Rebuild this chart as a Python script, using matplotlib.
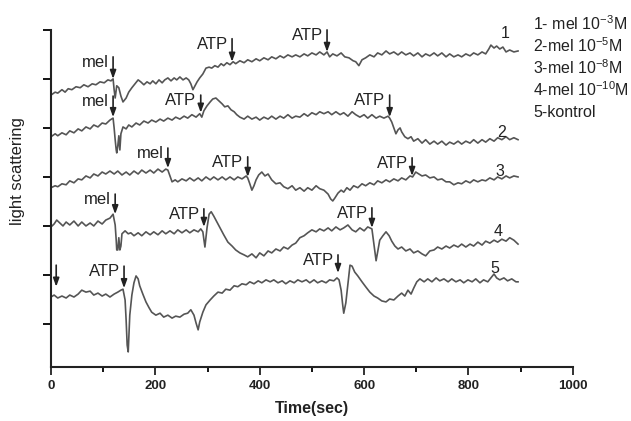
import matplotlib.pyplot as plt
import numpy as np

plt.rcParams['font.family'] = ['Liberation Sans', 'DejaVu Sans']

# traces: time (s) and light scattering (a.u.)
t1 = [0, 8, 13, 21, 27, 33, 40, 48, 56, 63, 71, 79, 86, 94, 102, 109, 115, 119, 121, 123, 125, 126, 130, 134,
      138, 144, 149, 155, 161, 167, 172, 178, 184, 190, 195, 201, 207, 213, 218, 224, 230, 236, 241, 247, 253,
      259, 264, 268, 272, 276, 280, 285, 291, 297, 303, 308, 314, 320, 326, 331, 337, 343, 349, 354, 362, 370,
      377, 385, 393, 400, 408, 416, 423, 431, 439, 446, 454, 462, 469, 477, 485, 492, 500, 508, 515, 523, 529,
      534, 540, 548, 556, 563, 571, 579, 584, 590, 596, 603, 611, 619, 626, 634, 642, 649, 657, 665, 672, 680,
      688, 695, 703, 711, 718, 726, 734, 741, 749, 757, 764, 772, 780, 787, 795, 803, 810, 818, 826, 833, 839,
      843, 849, 854, 860, 866, 872, 879, 887, 895]
y1 = [4.67, 4.73, 4.71, 4.78, 4.73, 4.80, 4.78, 4.84, 4.82, 4.88, 4.84, 4.90, 4.88, 4.94, 4.92, 4.98, 4.96, 5.00,
      4.78, 4.61, 4.78, 4.86, 4.82, 4.65, 4.53, 4.61, 4.73, 4.82, 4.90, 4.98, 4.94, 4.88, 4.94, 4.90, 4.96, 4.90,
      4.98, 4.92, 4.98, 5.02, 4.96, 5.02, 4.98, 5.04, 4.98, 5.02, 4.98, 4.90, 4.78, 4.86, 4.94, 5.02, 5.10, 5.22,
      5.24, 5.22, 5.27, 5.24, 5.31, 5.27, 5.33, 5.29, 5.35, 5.31, 5.37, 5.33, 5.39, 5.35, 5.41, 5.37, 5.43, 5.39,
      5.45, 5.41, 5.47, 5.43, 5.49, 5.45, 5.49, 5.45, 5.51, 5.47, 5.53, 5.49, 5.55, 5.49, 5.55, 5.45, 5.51, 5.47,
      5.53, 5.45, 5.43, 5.37, 5.35, 5.27, 5.39, 5.43, 5.49, 5.45, 5.53, 5.49, 5.57, 5.51, 5.55, 5.49, 5.55, 5.49,
      5.53, 5.47, 5.53, 5.45, 5.51, 5.47, 5.53, 5.47, 5.53, 5.45, 5.51, 5.45, 5.49, 5.45, 5.51, 5.47, 5.53, 5.49,
      5.55, 5.51, 5.61, 5.69, 5.63, 5.67, 5.61, 5.65, 5.55, 5.59, 5.55, 5.57]

t2 = [0, 8, 13, 21, 29, 36, 44, 52, 59, 67, 75, 82, 90, 98, 105, 113, 119, 121, 123, 125, 126, 128, 130, 132,
      134, 138, 144, 149, 155, 163, 170, 178, 186, 193, 201, 209, 216, 224, 232, 239, 247, 255, 262, 270, 278,
      285, 289, 293, 299, 305, 310, 316, 322, 328, 333, 339, 345, 351, 356, 362, 370, 377, 385, 393, 400, 408,
      416, 423, 431, 439, 446, 454, 462, 469, 477, 485, 492, 500, 508, 515, 523, 531, 538, 546, 554, 561, 569,
      577, 584, 592, 600, 607, 615, 623, 630, 638, 646, 649, 653, 657, 661, 665, 669, 672, 678, 684, 690, 695,
      703, 711, 718, 726, 734, 741, 749, 757, 764, 772, 780, 787, 795, 803, 810, 818, 826, 833, 841, 849, 856,
      864, 872, 879, 887, 895]
y2 = [3.82, 3.88, 3.84, 3.90, 3.86, 3.94, 3.90, 3.98, 3.94, 4.02, 3.98, 4.06, 4.02, 4.10, 4.08, 4.16, 4.20, 4.00,
      3.76, 3.55, 3.49, 3.63, 3.84, 3.55, 3.88, 4.02, 3.98, 4.06, 4.02, 4.10, 4.06, 4.14, 4.10, 4.16, 4.12, 4.18,
      4.14, 4.20, 4.16, 4.22, 4.18, 4.24, 4.20, 4.27, 4.22, 4.29, 4.22, 4.35, 4.45, 4.53, 4.59, 4.61, 4.55, 4.49,
      4.43, 4.45, 4.37, 4.33, 4.27, 4.22, 4.18, 4.24, 4.18, 4.22, 4.16, 4.22, 4.18, 4.24, 4.18, 4.24, 4.20, 4.27,
      4.20, 4.24, 4.22, 4.29, 4.24, 4.31, 4.27, 4.33, 4.29, 4.33, 4.27, 4.33, 4.27, 4.31, 4.24, 4.33, 4.27, 4.22,
      4.27, 4.20, 4.27, 4.20, 4.24, 4.20, 4.24, 4.20, 4.12, 4.00, 3.88, 3.96, 4.00, 3.92, 3.82, 3.78, 3.82, 3.73,
      3.78, 3.69, 3.76, 3.67, 3.73, 3.67, 3.73, 3.65, 3.71, 3.67, 3.73, 3.67, 3.73, 3.69, 3.76, 3.69, 3.76, 3.71,
      3.78, 3.73, 3.80, 3.76, 3.82, 3.76, 3.80, 3.76]

t3 = [0, 8, 13, 21, 29, 36, 44, 52, 59, 67, 75, 82, 90, 98, 105, 113, 121, 128, 136, 144, 151, 159, 167, 174,
      182, 190, 197, 205, 213, 220, 224, 228, 232, 238, 243, 251, 259, 266, 274, 282, 289, 297, 305, 312, 320,
      328, 335, 343, 351, 358, 366, 374, 377, 381, 385, 389, 393, 398, 404, 410, 416, 423, 431, 439, 446, 454,
      462, 469, 477, 485, 492, 500, 508, 515, 523, 531, 536, 540, 544, 550, 556, 561, 567, 573, 580, 588, 596,
      603, 611, 619, 626, 634, 642, 649, 657, 665, 672, 680, 688, 693, 699, 705, 711, 718, 726, 734, 741, 749,
      757, 764, 772, 780, 787, 795, 803, 810, 818, 826, 833, 841, 849, 856, 864, 872, 879, 887, 895]
y3 = [2.78, 2.82, 2.80, 2.86, 2.84, 2.92, 2.88, 2.96, 2.94, 3.02, 2.98, 3.06, 3.02, 3.10, 3.06, 3.12, 3.06, 3.12,
      3.04, 3.10, 3.04, 3.12, 3.06, 3.14, 3.08, 3.14, 3.08, 3.16, 3.10, 3.16, 3.14, 3.02, 2.90, 2.94, 2.90, 2.96,
      2.92, 2.98, 2.92, 2.98, 2.92, 3.00, 2.94, 3.00, 2.94, 3.00, 2.94, 3.00, 2.94, 3.00, 2.96, 3.02, 2.98, 2.86,
      2.73, 2.82, 2.94, 3.04, 3.10, 3.02, 3.06, 2.94, 2.86, 2.88, 2.80, 2.76, 2.82, 2.73, 2.78, 2.71, 2.78, 2.73,
      2.82, 2.76, 2.73, 2.65, 2.55, 2.51, 2.57, 2.67, 2.73, 2.69, 2.78, 2.73, 2.82, 2.78, 2.86, 2.82, 2.88, 2.84,
      2.92, 2.88, 2.94, 2.90, 2.96, 2.92, 2.98, 2.94, 3.02, 3.00, 3.10, 3.06, 3.02, 3.04, 2.98, 3.00, 2.94, 2.96,
      2.90, 2.90, 2.84, 2.88, 2.86, 2.92, 2.88, 2.94, 2.90, 2.94, 2.92, 2.98, 2.94, 3.00, 2.96, 3.02, 2.98, 3.02,
      3.00]

t4 = [0, 6, 11, 17, 23, 29, 36, 44, 52, 59, 67, 75, 82, 90, 98, 105, 113, 119, 123, 125, 126, 128, 130, 132, 134,
      136, 142, 148, 153, 159, 167, 174, 182, 190, 197, 205, 213, 220, 228, 236, 243, 251, 259, 266, 274, 282,
      287, 291, 295, 299, 303, 307, 312, 318, 324, 331, 339, 347, 354, 362, 370, 377, 385, 393, 400, 408, 416,
      423, 431, 439, 446, 454, 462, 469, 477, 485, 492, 500, 508, 515, 523, 531, 538, 546, 554, 561, 569, 577,
      584, 592, 600, 607, 615, 619, 623, 626, 630, 636, 642, 648, 653, 659, 665, 672, 680, 688, 695, 703, 711,
      718, 726, 734, 741, 749, 757, 764, 772, 780, 787, 795, 803, 810, 818, 826, 833, 841, 849, 856, 864, 872,
      879, 887, 895]
y4 = [1.98, 2.04, 2.12, 2.06, 2.00, 2.08, 2.02, 2.10, 2.00, 2.08, 2.00, 2.06, 2.00, 2.10, 2.04, 2.12, 2.16, 2.24,
      2.02, 1.71, 1.51, 1.51, 1.76, 1.51, 1.59, 1.84, 1.90, 1.84, 1.86, 1.80, 1.86, 1.80, 1.88, 1.82, 1.88, 1.82,
      1.90, 1.84, 1.90, 1.84, 1.92, 1.86, 1.92, 1.86, 1.92, 1.88, 1.94, 1.88, 1.57, 1.96, 2.24, 2.29, 2.20, 2.08,
      1.96, 1.82, 1.67, 1.59, 1.51, 1.45, 1.41, 1.37, 1.43, 1.35, 1.45, 1.39, 1.49, 1.45, 1.53, 1.49, 1.57, 1.53,
      1.61, 1.65, 1.76, 1.80, 1.86, 1.92, 1.88, 1.94, 1.90, 1.96, 1.90, 1.98, 1.92, 1.96, 2.02, 1.92, 1.88, 1.96,
      1.90, 1.98, 1.94, 1.61, 1.29, 1.47, 1.71, 1.80, 1.88, 1.80, 1.69, 1.59, 1.53, 1.57, 1.49, 1.53, 1.45, 1.49,
      1.43, 1.39, 1.49, 1.51, 1.57, 1.53, 1.59, 1.55, 1.61, 1.57, 1.63, 1.57, 1.63, 1.59, 1.67, 1.61, 1.69, 1.65,
      1.71, 1.67, 1.73, 1.69, 1.76, 1.71, 1.63]

t5 = [0, 6, 13, 21, 29, 36, 44, 52, 59, 67, 75, 82, 90, 98, 105, 113, 121, 128, 134, 138, 142, 144, 146, 148, 149,
      151, 155, 159, 163, 167, 170, 176, 182, 188, 193, 201, 209, 216, 224, 232, 239, 247, 255, 262, 268, 274,
      278, 282, 285, 291, 297, 305, 312, 320, 328, 335, 343, 351, 358, 366, 374, 381, 389, 397, 404, 412, 420,
      427, 435, 443, 450, 458, 466, 473, 481, 489, 496, 504, 511, 519, 527, 534, 542, 548, 552, 556, 559, 561,
      565, 569, 573, 577, 582, 588, 596, 603, 611, 619, 626, 634, 642, 649, 657, 665, 672, 678, 684, 690, 695,
      701, 707, 715, 722, 730, 738, 745, 753, 761, 768, 776, 784, 791, 799, 807, 814, 822, 829, 837, 843, 849,
      854, 860, 868, 875, 883, 891, 895]
y5 = [0.55, 0.59, 0.53, 0.57, 0.53, 0.59, 0.55, 0.61, 0.69, 0.65, 0.67, 0.59, 0.63, 0.57, 0.61, 0.55, 0.61, 0.65,
      0.69, 0.71, 0.49, 0.08, -0.43, -0.57, -0.33, 0.18, 0.59, 0.84, 0.98, 0.92, 0.78, 0.61, 0.45, 0.33, 0.24,
      0.18, 0.22, 0.14, 0.18, 0.12, 0.16, 0.14, 0.20, 0.22, 0.29, 0.18, 0.02, -0.12, 0.04, 0.24, 0.39, 0.49, 0.57,
      0.65, 0.63, 0.71, 0.69, 0.78, 0.76, 0.82, 0.80, 0.86, 0.82, 0.88, 0.84, 0.90, 0.86, 0.90, 0.84, 0.88, 0.82,
      0.88, 0.84, 0.90, 0.86, 0.90, 0.84, 0.90, 0.84, 0.88, 0.84, 0.90, 0.88, 0.94, 0.90, 0.69, 0.39, 0.22, 0.43,
      0.82, 1.20, 1.18, 1.06, 0.98, 0.86, 0.76, 0.65, 0.57, 0.53, 0.47, 0.45, 0.51, 0.49, 0.57, 0.63, 0.57, 0.69,
      0.61, 0.73, 0.86, 0.92, 0.86, 0.92, 0.86, 0.94, 0.88, 0.92, 0.86, 0.92, 0.86, 0.90, 0.84, 0.90, 0.86, 0.92,
      0.84, 0.90, 0.86, 0.94, 1.02, 0.94, 0.90, 0.94, 0.88, 0.92, 0.86, 0.86]

# arrows: label, time, arrow tip, arrow top
arrow_labels = ['mel', 'ATP', 'ATP', 'mel', 'ATP', 'ATP', 'mel', 'ATP', 'ATP',
                'mel', 'ATP', 'ATP', '', 'ATP', 'ATP']
arrow_t = [119, 347, 529, 119, 287, 649, 224, 377, 692, 123, 293, 615, 10, 140, 550]
arrow_tip = [5.00, 5.35, 5.55, 4.22, 4.31, 4.22, 3.18, 3.00, 3.02, 2.24, 1.98, 1.96, 0.76, 0.73, 1.04]
arrow_top = [5.45, 5.82, 6.00, 4.65, 4.67, 4.67, 3.59, 3.41, 3.39, 2.65, 2.35, 2.37, 1.20, 1.18, 1.41]

curve_names = ['1', '2', '3', '4', '5']
name_t = [870, 864, 860, 856, 851]
name_y = [5.92, 3.90, 3.12, 1.88, 1.14]

legend_lines = [r'1- mel 10$^{\mathregular{-3}}$M', r'2-mel 10$^{\mathregular{-5}}$M',
                r'3-mel 10$^{\mathregular{-8}}$M', r'4-mel 10$^{\mathregular{-10}}$M', '5-kontrol']

fig = plt.figure(figsize=(6.31, 4.21), dpi=100)
ax = fig.add_axes([0.0808, 0.128, 0.827, 0.801])

for t, y in [(t1, y1), (t2, y2), (t3, y3), (t4, y4), (t5, y5)]:
    ax.plot(t, y, color='#555555', lw=1.2)

for lab, t, tip, top in zip(arrow_labels, arrow_t, arrow_tip, arrow_top):
    ax.annotate('', xy=(t, tip), xytext=(t, top),
                arrowprops=dict(arrowstyle='-|>,head_length=0.5,head_width=0.18', color='#222222', lw=1.2,
                                shrinkA=0, shrinkB=0))
    if lab:
        ax.annotate(lab, xy=(t, top), xytext=(-3, -4), textcoords='offset points',
                    ha='right', va='center', fontsize=12, color='#222222')

for n, t, y in zip(curve_names, name_t, name_y):
    ax.text(t, y, n, fontsize=11.5, color='#222222', ha='center', va='center')

for i, line in enumerate(legend_lines):
    fig.text(0.845, 0.945 - i * 0.0528, line, fontsize=11.5, color='#222222', va='center')

ax.set_xlim(0, 1000)
ax.set_ylim(-0.88, 6)
ax.set_xticks(np.arange(0, 1001, 200))
ax.set_xticks(np.arange(100, 1000, 200), minor=True)
ax.set_yticks(np.arange(0, 7, 1))
ax.set_yticklabels([])
ax.tick_params(axis='x', which='major', length=6, width=1.3, labelsize=9.5, colors='#222222')
ax.tick_params(axis='x', which='minor', length=3.5, width=1.3)
ax.tick_params(axis='y', length=6, width=1.3)
for lbl in ax.get_xticklabels():
    lbl.set_fontweight('bold')
for s in ['top', 'right']:
    ax.spines[s].set_visible(False)
for s in ['left', 'bottom']:
    ax.spines[s].set_linewidth(1.5)
    ax.spines[s].set_color('#222222')

ax.set_xlabel('Time(sec)', fontsize=11.5, fontweight='bold', color='#222222')
ax.xaxis.set_label_coords(0.5, -0.1)
ax.set_ylabel('light scattering', fontsize=12, color='#222222')
ax.yaxis.set_label_coords(-0.05, 0.58)

plt.savefig('out.png', dpi=100)
